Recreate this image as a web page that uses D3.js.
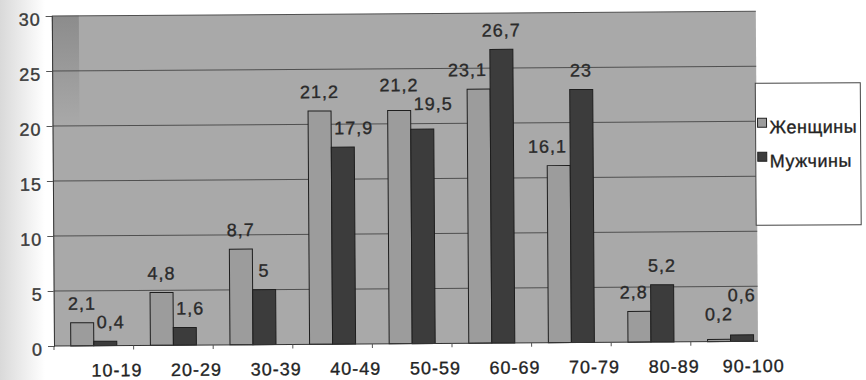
<!DOCTYPE html>
<html>
<head>
<meta charset="utf-8">
<script src="https://cdn.jsdelivr.net/npm/d3@7"></script>
<style>
  html, body { margin: 0; padding: 0; background: #ffffff; }
  svg { display: block; font-family: "Liberation Sans", Arial, sans-serif; }
  text { stroke: #2a2a2a; stroke-width: 0.35px; }
</style>
</head>
<body>
<svg id="chart" width="866" height="380"></svg>
<script>
const categories = ["10-19", "20-29", "30-39", "40-49", "50-59", "60-69", "70-79", "80-89", "90-100"];
const seriesNames = ["Женщины", "Мужчины"];
const women = [2.1, 4.8, 8.7, 21.2, 21.2, 23.1, 16.1, 2.8, 0.2];
const men = [0.4, 1.6, 5, 17.9, 19.5, 26.7, 23, 5.2, 0.6];
const yTicks = [0, 5, 10, 15, 20, 25, 30];

const W = 866, H = 380;
const plotL = 54, plotR = 758, plotT = 16, plotB = 346;

const svg = d3.select("#chart");
const defs = svg.append("defs");

// scan-like left shading of the page
const pg = defs.append("linearGradient").attr("id", "pageShade").attr("x1", 0).attr("x2", 1).attr("y1", 0).attr("y2", 0);
pg.append("stop").attr("offset", "0%").attr("stop-color", "#d9d9d9");
pg.append("stop").attr("offset", "100%").attr("stop-color", "#ffffff");
svg.append("rect").attr("x", 0).attr("y", 0).attr("width", 45).attr("height", H).attr("fill", "url(#pageShade)");

const cornerG = defs.append("linearGradient").attr("id", "cornerShade").attr("x1", 0).attr("x2", 0).attr("y1", 0).attr("y2", 1);
cornerG.append("stop").attr("offset", "0%").attr("stop-color", "#8c8c8c").attr("stop-opacity", 1);
cornerG.append("stop").attr("offset", "100%").attr("stop-color", "#8c8c8c").attr("stop-opacity", 0);

const seriesData = [women, men];
const colors = ["#9c9c9c", "#3c3c3c"];

const x = d3.scaleBand().domain(categories).range([plotL, plotL + 9 * 79.6]).paddingInner(0).paddingOuter(0);
const xs = d3.scaleBand().domain(seriesNames).range([0, x.bandwidth()]).paddingInner(0).paddingOuter(0.73);
const y = d3.scaleLinear().domain([0, 30]).range([plotB, plotT]);

const g = svg.append("g").attr("transform", `rotate(-0.38, ${plotL}, ${plotB})`);

// plot background
g.append("rect").attr("x", plotL).attr("y", plotT).attr("width", plotR - plotL).attr("height", plotB - plotT).attr("fill", "#a9a9a9");
g.append("rect").attr("x", plotL).attr("y", plotT).attr("width", 27).attr("height", 110).attr("fill", "url(#cornerShade)");

// gridlines
g.append("g").selectAll("line").data(yTicks.filter(d => d > 0)).join("line")
  .attr("x1", plotL).attr("x2", plotR)
  .attr("y1", d => y(d)).attr("y2", d => y(d))
  .attr("stroke", "#505050").attr("stroke-width", 1);

// bars
const groups = g.append("g").selectAll("g").data(categories).join("g")
  .attr("transform", d => `translate(${x(d)},0)`);

const rowData = (d, i) => seriesNames.map((s, k) => ({ s, k, v: seriesData[k][i], nv: seriesData[1 - k][i], ns: seriesNames[1 - k] }));

groups.selectAll("rect").data(rowData).join("rect")
  .attr("x", d => xs(d.s))
  .attr("width", xs.bandwidth())
  .attr("y", d => y(d.v))
  .attr("height", d => y(0) - y(d.v))
  .attr("fill", d => colors[d.k])
  .attr("stroke", "#1e1e1e").attr("stroke-width", 1);

// value labels (shifted sideways when the taller neighbour bar would touch them)
const fmt = v => String(v).replace(".", ",");
const labelOff = 13, gap = 3;
groups.selectAll("text").data(rowData).join("text")
  .attr("x", d => xs(d.s) + xs.bandwidth() / 2)
  .attr("y", d => y(d.v) - labelOff)
  .attr("text-anchor", "middle")
  .attr("font-size", 18).attr("letter-spacing", 1)
  .attr("fill", "#2a2a2a")
  .text(d => fmt(d.v))
  .each(function (d) {
    const w = this.getComputedTextLength();
    const cx = xs(d.s) + xs.bandwidth() / 2;
    const base = y(d.v) - labelOff;
    if (d.nv > d.v && y(d.nv) < base) {
      let shift = 0;
      if (d.k === 0) {
        const edge = xs(d.ns) - gap;
        shift = Math.min(0, edge - (cx + w / 2));
      } else {
        const edge = xs(d.ns) + xs.bandwidth() + gap;
        shift = Math.max(0, edge - (cx - w / 2));
      }
      d3.select(this).attr("x", cx + shift);
    }
  });

// if the two labels of a group collide, lift the one of the taller bar
groups.each(function () {
  const t = d3.select(this).selectAll("text").nodes();
  const b0 = t[0].getBBox(), b1 = t[1].getBBox();
  const overlap = b0.x < b1.x + b1.width && b1.x < b0.x + b0.width && b0.y < b1.y + b1.height && b1.y < b0.y + b0.height;
  if (overlap) {
    const d0 = d3.select(t[0]).datum(), d1 = d3.select(t[1]).datum();
    const hi = d1.v >= d0.v ? t[1] : t[0];
    const lo = hi === t[1] ? t[0] : t[1];
    const loY = +d3.select(lo).attr("y");
    d3.select(lo).attr("y", loY - 6);
    d3.select(hi).attr("y", loY - 6 - 19);
  }
});

// y axis
const yAxis = g.append("g").attr("transform", `translate(${plotL},0)`)
  .call(d3.axisLeft(y).tickValues(yTicks).tickSize(6).tickPadding(5).tickFormat(d3.format("d")));
yAxis.select(".domain").attr("stroke", "#333");
yAxis.selectAll(".tick line").attr("stroke", "#555");
yAxis.selectAll("text").attr("font-size", 18).attr("letter-spacing", 1).attr("fill", "#404040")
  .attr("font-family", "Liberation Sans, Arial, sans-serif").attr("dy", "0.5em");

// x axis
const xAxis = g.append("g").attr("transform", `translate(0,${plotB})`)
  .call(d3.axisBottom(x).tickSize(0).tickPadding(18));
xAxis.select(".domain").remove();
xAxis.selectAll("text").attr("font-size", 18).attr("letter-spacing", 1).attr("fill", "#222")
  .attr("font-family", "Liberation Sans, Arial, sans-serif").attr("dx", 23);
g.append("line").attr("x1", plotL).attr("x2", plotR).attr("y1", plotB).attr("y2", plotB).attr("stroke", "#333");
g.append("g").selectAll("line").data(categories).join("line")
  .attr("x1", d => x(d)).attr("x2", d => x(d))
  .attr("y1", plotB).attr("y2", plotB + 4)
  .attr("stroke", "#555");

// legend
const leg = g.append("g");
leg.append("rect").attr("x", 757).attr("y", 88).attr("width", 105).attr("height", 142)
  .attr("fill", "#ffffff").attr("stroke", "#444").attr("stroke-width", 1);
const li = leg.selectAll("g").data(seriesNames).join("g")
  .attr("transform", (d, i) => `translate(759,${123 + i * 34})`);
li.append("rect").attr("width", 9).attr("height", 9).attr("fill", (d, i) => colors[i]).attr("stroke", "#222");
li.append("text").attr("x", 12).attr("y", 15).attr("font-size", 18).attr("letter-spacing", 0.5)
  .attr("fill", "#222").text(d => d);
</script>
</body>
</html>
